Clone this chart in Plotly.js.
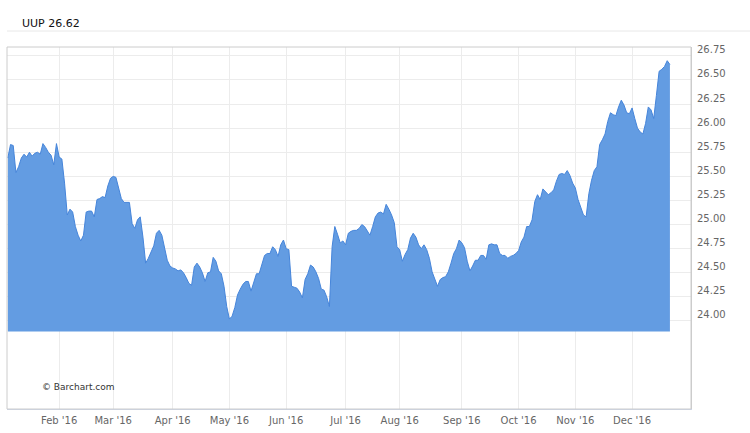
<!DOCTYPE html>
<html>
<head>
<meta charset="utf-8">
<script src="https://cdn.plot.ly/plotly-3.0.1.min.js"></script>
<style>html,body{margin:0;padding:0;background:#fff;}#chart{width:750px;height:433px;}</style>
</head>
<body>
<div id="chart"></div>
<script>
// Daily closes of UUP in 2016, one array per month (trading days only)
const jan = [25.69,25.83,25.82,25.54,25.60,25.69,25.73,25.70,25.75,25.71,25.74,25.75,25.73,25.84,25.80,25.75,25.72,25.62,25.84];
const feb = [25.70,25.68,25.43,25.10,25.16,25.13,24.98,24.89,24.83,24.89,25.13,25.14,25.14,25.08,25.26,25.27,25.29,25.28,25.40,25.48];
const mar = [25.50,25.49,25.38,25.27,25.23,25.23,25.23,25.01,24.96,25.05,25.08,24.87,24.60,24.65,24.72,24.78,24.91,24.94,24.89,24.75,24.63,24.57];
const apr = [24.55,24.54,24.52,24.53,24.50,24.45,24.39,24.37,24.56,24.60,24.56,24.50,24.41,24.50,24.51,24.66,24.62,24.52,24.49,24.36,24.15];
const may = [24.02,24.05,24.14,24.27,24.33,24.38,24.41,24.41,24.31,24.41,24.49,24.49,24.58,24.68,24.70,24.70,24.77,24.74,24.67,24.79,24.84];
const jun = [24.75,24.74,24.36,24.35,24.34,24.30,24.24,24.43,24.49,24.58,24.56,24.51,24.44,24.33,24.32,24.25,24.15,24.77,24.98,24.90,24.81,24.83];
const jul = [24.79,24.91,24.93,24.94,24.94,24.96,25.00,24.98,24.93,24.89,24.98,25.08,25.12,25.13,25.11,25.21,25.16,25.10,25.02,24.77];
const aug = [24.74,24.62,24.69,24.74,24.86,24.91,24.87,24.79,24.75,24.79,24.74,24.65,24.51,24.44,24.36,24.43,24.45,24.46,24.51,24.60,24.70,24.75,24.84];
const sep = [24.81,24.76,24.62,24.52,24.57,24.63,24.63,24.68,24.68,24.64,24.79,24.80,24.79,24.79,24.70,24.68,24.68,24.65,24.67,24.68,24.70];
const oct = [24.73,24.82,24.87,24.98,24.98,25.05,25.24,25.31,25.26,25.37,25.34,25.31,25.33,25.36,25.45,25.52,25.53,25.52,25.56,25.51,25.43];
const nov = [25.38,25.26,25.18,25.10,25.08,25.32,25.46,25.56,25.60,25.83,25.88,25.94,26.07,26.16,26.14,26.13,26.22,26.29,26.24,26.16,26.15];
const dec = [26.21,26.10,26.00,25.96,25.94,26.05,26.22,26.19,26.10,26.34,26.59,26.61,26.64,26.70,26.66];

const monthLabels = ["Feb '16","Mar '16","Apr '16","May '16","Jun '16","Jul '16","Aug '16","Sep '16","Oct '16","Nov '16","Dec '16"];
const yTicks = [24.00,24.25,24.50,24.75,25.00,25.25,25.50,25.75,26.00,26.25,26.50,26.75];
const symbolText = "UUP 26.62";
const baseValue = 23.89;

const months = [jan,feb,mar,apr,may,jun,jul,aug,sep,oct,nov,dec];
const closes = [].concat(...months);
const xs = closes.map((_, i) => i);
// first trading day index of each month Feb..Dec
const monthStarts = [];
let acc = 0;
months.forEach((m, k) => { if (k > 0) monthStarts.push(acc); acc += m.length; });

const font = "DejaVu Sans, Verdana, sans-serif";

const traces = [
  {x: xs, y: closes.map(() => baseValue), type: 'scatter', mode: 'lines',
   line: {width: 0, color: 'rgba(0,0,0,0)'}, hoverinfo: 'skip', showlegend: false},
  {x: xs, y: closes, type: 'scatter', mode: 'lines', fill: 'tonexty',
   fillcolor: 'rgb(99,156,226)', line: {color: 'rgb(70,133,218)', width: 1},
   showlegend: false}
];

const layout = {
  width: 750, height: 433,
  margin: {l: 7, r: 59, t: 47, b: 24, pad: 0},
  paper_bgcolor: '#ffffff', plot_bgcolor: '#ffffff',
  title: {text: symbolText, x: 22/750, xanchor: 'left', xref: 'container',
          y: 1 - 23/433, yanchor: 'middle', yref: 'container',
          font: {family: font, size: 11, color: '#111'}},
  xaxis: {
    range: [-0.3, 252.8], tickmode: 'array', tickvals: monthStarts, ticktext: monthLabels,
    showgrid: true, gridcolor: '#ececec', gridwidth: 1, zeroline: false,
    showline: true, linecolor: '#ccd6eb', linewidth: 1, ticks: '',
    ticklabelstandoff: 2,
    tickfont: {family: font, size: 10, color: '#666'}, fixedrange: true
  },
  yaxis: {
    side: 'right', range: [23.087, 26.842], tickmode: 'array', tickvals: yTicks,
    ticktext: yTicks.map(v => v.toFixed(2)),
    showgrid: true, gridcolor: '#ececec', gridwidth: 1, zeroline: false,
    showline: true, linecolor: '#cccccc', linewidth: 1, ticks: '',
    ticklabelshift: -6, ticklabelstandoff: 3,
    tickfont: {family: font, size: 10, color: '#666'}, fixedrange: true
  },
  shapes: [
    {type: 'rect', xref: 'paper', yref: 'paper', x0: 0, x1: 1, y0: 0, y1: 1,
     line: {color: '#cccccc', width: 1}, fillcolor: 'rgba(0,0,0,0)', layer: 'above'},
    {type: 'line', xref: 'paper', yref: 'paper', x0: 0, x1: 743/684, y0: (409 - 31)/362, y1: (409 - 31)/362,
     line: {color: '#e8e8e8', width: 1}}
  ],
  annotations: [
    {text: '© Barchart.com', xref: 'paper', yref: 'paper', x: 33/684, y: (409 - 387)/362,
     xanchor: 'left', yanchor: 'middle', showarrow: false,
     font: {family: font, size: 9, color: '#333'}}
  ],
  showlegend: false
};

Plotly.newPlot('chart', traces, layout, {displayModeBar: false, staticPlot: true});
</script>
</body>
</html>
